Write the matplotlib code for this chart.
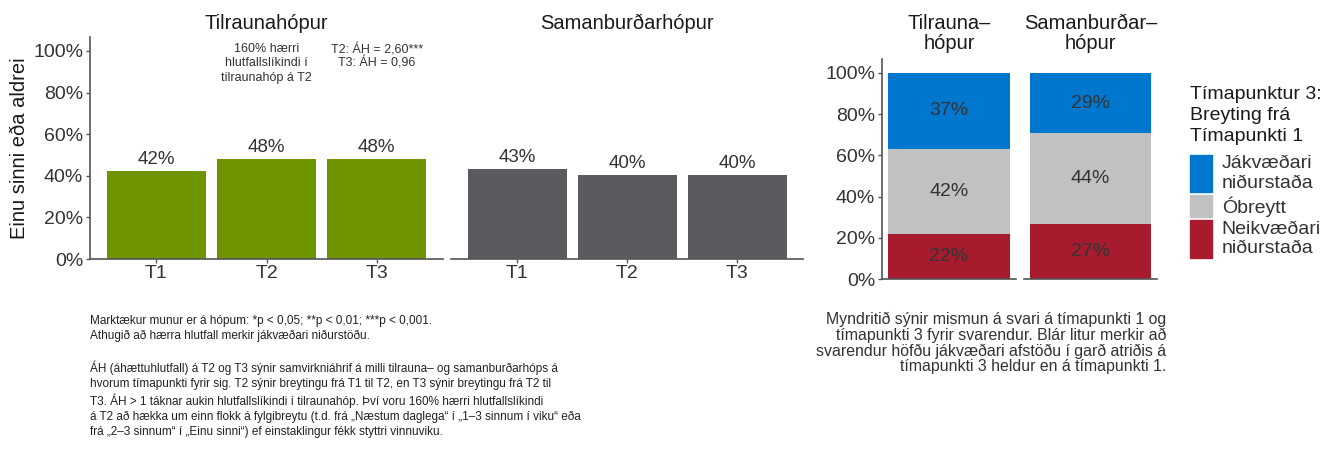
import matplotlib
matplotlib.use("Agg")
import matplotlib.pyplot as plt
import matplotlib.font_manager as fm
from matplotlib.patches import Patch, Rectangle
from matplotlib.legend_handler import HandlerPatch

plt.rcParams['font.family'] = ['Liberation Sans', 'DejaVu Sans']

# --- data ---
times = ["T1", "T2", "T3"]
group_names = ["Tilraunahópur", "Samanburðarhópur"]
tilrauna_pct = [42.3, 48.1, 48.1]
saman_pct = [43.3, 40.4, 40.4]

change_groups = ["Tilrauna–\nhópur", "Samanburðar–\nhópur"]
change_cats = ["Neikvæðari\nniðurstaða", "Óbreytt", "Jákvæðari\nniðurstaða"]
neg_pct = [21.6, 26.6]
same_pct = [41.6, 44.0]
pos_pct = [36.8, 29.4]

yticks = [0, 20, 40, 60, 80, 100]

GREEN = "#6E9400"
DGRAY = "#5B5B5F"
BLUE = "#0077CF"
LGRAY = "#C1C1C3"
RED = "#A81B2F"
TXT = "#333333"
AX = "#555555"

W, H = 1336, 449
fig = plt.figure(figsize=(W / 100, H / 100), dpi=100)


def box(x0, y0, x1, y1):
    return [x0 / W, 1 - y1 / H, (x1 - x0) / W, (y1 - y0) / H]


def style(ax, show_y):
    for s in ["top", "right"]:
        ax.spines[s].set_visible(False)
    ax.spines["bottom"].set_color(AX)
    ax.spines["bottom"].set_linewidth(1.2)
    if show_y:
        ax.spines["left"].set_color(AX)
        ax.spines["left"].set_linewidth(1.2)
        ax.set_yticks(yticks)
        ax.set_yticklabels([f"{t}%" for t in yticks])
        ax.tick_params(axis="y", colors=AX, labelcolor=TXT, labelsize=14, length=3, width=1.0, pad=2)
    else:
        ax.spines["left"].set_visible(False)
        ax.set_yticks([])
    ax.set_ylim(0, 106.7)


# left: two bar panels
ax1 = fig.add_axes(box(90, 37, 443, 259))
ax2 = fig.add_axes(box(451, 37, 803, 259))
for ax, vals, col, name, show_y in [(ax1, tilrauna_pct, GREEN, group_names[0], True),
                                     (ax2, saman_pct, DGRAY, group_names[1], False)]:
    xs = range(1, len(times) + 1)
    bars = ax.bar(xs, vals, width=0.9, color=col)
    for b, v in zip(bars, vals):
        ax.annotate(f"{v:.0f}%", (b.get_x() + b.get_width() / 2, v), xytext=(0, 2),
                    textcoords="offset points", ha="center", va="bottom", fontsize=13.5, color=TXT)
    ax.set_xlim(0.4, 3.6)
    ax.set_xticks(list(xs))
    ax.set_xticklabels(times)
    ax.tick_params(axis="x", colors=AX, labelcolor=TXT, labelsize=14, length=3, width=1.0, pad=1)
    style(ax, show_y)
    ax.set_title(name, fontsize=14.5, color="#1A1A1A", pad=6)

ax1.set_ylabel("Einu sinni eða aldrei", fontsize=14.5, color="#1A1A1A", labelpad=3)
ax1.text(2, 103.8, "160% hærri\nhlutfallslíkindi í\ntilraunahóp á T2", ha="center", va="top",
         fontsize=9, color=TXT, linespacing=1.25)
ax1.text(3, 103.8, "T2: ÁH = 2,60***\nT3: ÁH = 0,96", ha="center", va="top",
         fontsize=9, color=TXT, linespacing=1.05)

# right: stacked change bars
ax3 = fig.add_axes(box(882, 59, 1016, 279))
ax4 = fig.add_axes(box(1024, 59, 1157, 279))
for i, (ax, show_y) in enumerate([(ax3, True), (ax4, False)]):
    segs = [neg_pct[i], same_pct[i], pos_pct[i]]
    cols = [RED, LGRAY, BLUE]
    bottom = 0
    for v, c in zip(segs, cols):
        ax.bar([0], [v], bottom=bottom, width=1.0, color=c)
        ax.text(0, bottom + v / 2, f"{v:.0f}%", ha="center", va="center", fontsize=14, color=TXT)
        bottom += v
    ax.set_xlim(-0.55, 0.55)
    ax.set_xticks([])
    style(ax, show_y)
    ax.set_title(change_groups[i], fontsize=14.5, color="#1A1A1A", pad=7, linespacing=1.1)


# legend keys: two-line entries get taller keys
def key_patch(legend, orig_handle, xdescent, ydescent, width, height, fontsize):
    if "\n" in orig_handle.get_label():
        hh = 27.0
    else:
        hh = 16.0
    cy = -ydescent + height / 2
    return Rectangle((-xdescent, cy - hh / 2), width, hh)


fig.text(1190 / W, 1 - 86 / H, "Tímapunktur 3:\nBreyting frá\nTímapunkti 1", ha="left", va="top",
         fontsize=14, color="#1A1A1A", linespacing=1.3)

handles = [Patch(color=BLUE, label=change_cats[2]), Patch(color=LGRAY, label=change_cats[1]),
           Patch(color=RED, label=change_cats[0])]
leg = fig.legend(handles, [change_cats[2], change_cats[1], change_cats[0]],
                 loc="upper left", bbox_to_anchor=(1190 / W, 1 - 155 / H), frameon=False,
                 fontsize=14, handlelength=1.13, handleheight=1.3, labelspacing=0.2,
                 handletextpad=0.5, borderaxespad=0, borderpad=0,
                 handler_map={Patch: HandlerPatch(patch_func=key_patch)})
for t in leg.get_texts():
    t.set_linespacing(1.2)
    t.set_color(TXT)

# notes
narrow = [f.fname for f in fm.fontManager.ttflist if f.name == "Liberation Sans Narrow"]
if narrow:
    note_fam, note_size = ["Liberation Sans Narrow", "Liberation Sans"], 10.2
else:
    note_fam, note_size = ["Liberation Sans", "DejaVu Sans"], 8.5
note_ls = 16 / (note_size * 100 / 72) / 1.03

note_left = ("Marktækur munur er á hópum: *p < 0,05; **p < 0,01; ***p < 0,001.\n"
             "Athugið að hærra hlutfall merkir jákvæðari niðurstöðu.\n"
             "\n"
             "ÁH (áhættuhlutfall) á T2 og T3 sýnir samvirkniáhrif á milli tilrauna– og samanburðarhóps á\n"
             "hvorum tímapunkti fyrir sig. T2 sýnir breytingu frá T1 til T2, en T3 sýnir breytingu frá T2 til\n"
             "T3. ÁH > 1 táknar aukin hlutfallslíkindi í tilraunahóp. Því voru 160% hærri hlutfallslíkindi\n"
             "á T2 að hækka um einn flokk á fylgibreytu (t.d. frá „Næstum daglega“ í „1–3 sinnum í viku“ eða\n"
             "frá „2–3 sinnum“ í „Einu sinni“) ef einstaklingur fékk styttri vinnuviku.")
fig.text(90 / W, 1 - 315 / H, note_left, ha="left", va="top", fontsize=note_size,
         family=note_fam, color="#222222", linespacing=note_ls)

note_right = ("Myndritið sýnir mismun á svari á tímapunkti 1 og\n"
              "tímapunkti 3 fyrir svarendur. Blár litur merkir að\n"
              "svarendur höfðu jákvæðari afstöðu í garð atriðis á\n"
              "tímapunkti 3 heldur en á tímapunkti 1.")
fig.text(1166 / W, 1 - 312 / H, note_right, ha="right", va="top", fontsize=11.4,
         color=TXT, linespacing=1.04, multialignment="right")

fig.savefig("out.png", dpi=100)
